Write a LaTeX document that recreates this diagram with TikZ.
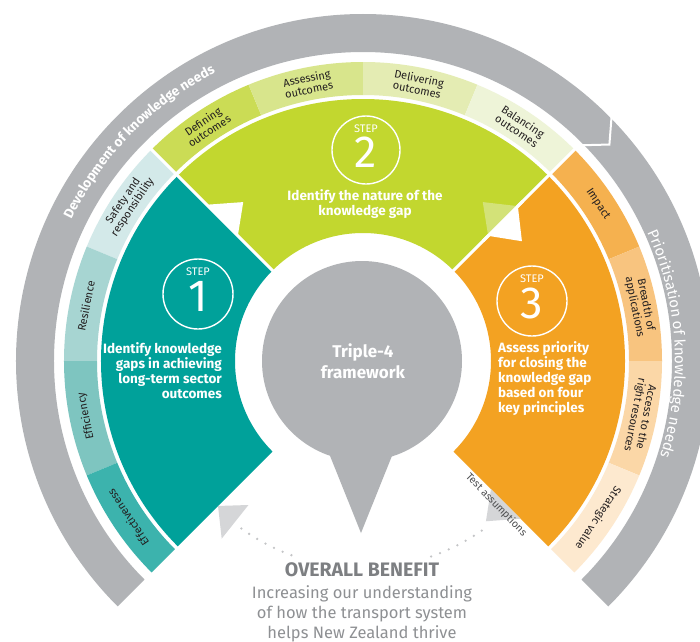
\documentclass[tikz,border=0pt]{standalone}
\usepackage{fontspec}
\setmainfont{Fira Sans}
\usetikzlibrary{decorations.text}
\definecolor{grayA}{HTML}{B1B3B6}
\definecolor{lgray}{HTML}{D5D6D8}
\definecolor{dotgray}{HTML}{C4C5C7}
\definecolor{tealM}{HTML}{00A19A}
\definecolor{greenM}{HTML}{C2D72F}
\definecolor{orangeM}{HTML}{F3A222}
\definecolor{greenTri}{HTML}{D3E278}
\definecolor{tA}{HTML}{D3E9E9}
\definecolor{tB}{HTML}{A7D5D2}
\definecolor{tC}{HTML}{7EC5C0}
\definecolor{tD}{HTML}{3CB3AD}
\definecolor{gA}{HTML}{CBDC55}
\definecolor{gB}{HTML}{D8E58C}
\definecolor{gC}{HTML}{E4ECB3}
\definecolor{gD}{HTML}{EEF4D8}
\definecolor{oA}{HTML}{F5B14F}
\definecolor{oB}{HTML}{F8C47F}
\definecolor{oC}{HTML}{FBD7A7}
\definecolor{oD}{HTML}{FDE9CF}
\definecolor{ink}{HTML}{231F20}
\definecolor{benefit}{HTML}{7D7F82}
\definecolor{subgray}{HTML}{8E9093}
\definecolor{testgray}{HTML}{4D4E50}
\newcommand{\ringseg}[5]{\fill[#1] (#2:#4pt) arc[start angle=#2,end angle=#3,radius=#4pt] -- (#3:#5pt) arc[start angle=#3,end angle=#2,radius=#5pt] -- cycle;}
\tikzset{
  bandlbl/.style={text=ink, align=center, inner sep=0pt, font=\fontsize{11}{11.5}\selectfont},
  steptxt/.style={text=white, inner sep=0pt, font=\bfseries\fontsize{13.5}{15}\selectfont},
  stepring/.style={draw=white, line width=1.4pt},
  steplbl/.style={text=white, inner sep=0pt, font=\fontsize{11}{11}\selectfont},
  stepnum/.style={text=white, inner sep=0pt, font=\fontsize{45}{45}\selectfont},
  dotline/.style={draw=dotgray, line width=2.6pt, line cap=round, dash pattern=on 0pt off 9.5pt},
  sepline/.style={draw=white, line width=3pt}
}
\begin{document}
\begin{tikzpicture}[x=1pt,y=1pt]
\useasboundingbox (-363,-280) rectangle (337,361);
\clip (-363,-280) rectangle (337,361);
\fill[white] (-363,-280) rectangle (337,361);
% outer gray band
\ringseg{grayA}{225}{-45}{347}{309}
\draw[white, line width=2pt, line join=miter] (45:352pt) -- (41.3:328pt) -- (45:305pt);
% thin bands
\ringseg{tA}{135}{157.5}{299}{266}
\ringseg{tB}{157.5}{180}{299}{266}
\ringseg{tC}{180}{202.5}{299}{266}
\ringseg{tD}{202.5}{225}{299}{266}
\ringseg{gA}{112.5}{135}{299}{266}
\ringseg{gB}{90}{112.5}{299}{266}
\ringseg{gC}{67.5}{90}{299}{266}
\ringseg{gD}{45}{67.5}{299}{266}
\ringseg{oA}{22.5}{45}{299}{266}
\ringseg{oB}{0}{22.5}{299}{266}
\ringseg{oC}{-22.5}{0}{299}{266}
\ringseg{oD}{-45}{-22.5}{299}{266}
% main sectors
\ringseg{tealM}{135}{225}{262}{128}
\ringseg{greenM}{45}{135}{262}{128}
\ringseg{orangeM}{-45}{45}{262}{128}
% separators
\draw[sepline] (135:120pt) -- (135:303pt);
\draw[sepline] (45:120pt) -- (45:303pt);
% arrow triangles
\fill[white] (135:221pt) -- (135:177pt) -- (127:199pt) -- cycle;
\fill[greenTri] (45:219pt) -- (45:177pt) -- (53:199pt) -- cycle;
\fill[white] (45:219pt) -- (45:177pt) -- (37:199pt) -- cycle;
\draw[sepline] (45:170pt) -- (45:226pt);
\fill[lgray] (225:205pt) -- (231.5:184pt) -- (231.5:227pt) -- cycle;
\fill[lgray] (-45:223pt) -- (-45:181pt) -- (-52.5:202pt) -- cycle;
% dotted return path
\coordinate (dA) at (-55:207pt);
\coordinate (dB) at (234:207pt);
\draw[dotline] (dA) arc[start angle=-55,end angle=-72,radius=207pt];
\draw[dotline] (dB) arc[start angle=234,end angle=250,radius=207pt];
% centre
\fill[grayA] (-1,0) circle[radius=100pt];
\fill[grayA] (-55,-40) -- (-2,-172) -- (51,-40) -- cycle;
\node[text=white, align=center, inner sep=0pt, font=\bfseries\fontsize{17}{21}\selectfont] (core) at (0,0) {Triple-4\\framework};
% steps
\draw[stepring] (-165,67) circle[radius=35pt];
\node[steplbl] (s1a) at (-165,89) {STEP};
\node[stepnum] (s1b) at (-165,65) {1};
\node[steptxt, align=right, anchor=east] (s1t) at (-141,-10) {Identify knowledge\\gaps in achieving\\long-term sector\\outcomes};
\draw[stepring] (3,211) circle[radius=34pt];
\node[steplbl] (s2a) at (3,232) {STEP};
\node[stepnum] (s2b) at (3,209) {2};
\node[steptxt, align=center] (s2t) at (2,157) {Identify the nature of the\\knowledge gap};
\draw[stepring] (169,60) circle[radius=35pt];
\node[steplbl] (s3a) at (169,82) {STEP};
\node[stepnum] (s3b) at (169,58) {3};
\node[steptxt, align=left, anchor=west] (s3t) at (135,-18) {Assess priority\\for closing the\\knowledge gap\\based on four\\key principles};
% band labels
\foreach \a/\t [count=\i] in {146.25/{Safety and\\responsibility}, 168.75/{Resilience}, 191.25/{Efficiency}, 213.75/{Effectiveness},
  123.75/{Defining\\outcomes}, 101.25/{Assessing\\outcomes}, 78.75/{Delivering\\outcomes}, 56.25/{Balancing\\outcomes},
  33.75/{Impact}, 11.25/{Breadth of\\applications}, -11.25/{Access to the\\right resources}, -33.75/{Strategic value}}
  \node[bandlbl, rotate=\a-90] (band\i) at (\a:282.5pt) {\t};
% arc texts
\path[decorate, decoration={text along path, text align=center, text color=white,
  text={|\bfseries\fontsize{13.5}{13.5}\selectfont|Development of knowledge needs}}]
  (185.6:324pt) arc[start angle=185.6,end angle=85.6,radius=324pt];
\path[decorate, decoration={text along path, text align=center, text color=white,
  text={|\fontsize{15}{15}\selectfont|Prioritisation of knowledge needs}}]
  (53.3:312pt) arc[start angle=53.3,end angle=-46.7,radius=312pt];
% test assumptions
\node[rotate=-46, text=testgray, inner sep=0pt, font=\fontsize{10.5}{10.5}\selectfont] (test) at (-47.2:196pt) {Test assumptions};
% benefit
\node[anchor=base, text=benefit, inner sep=0pt, font=\bfseries\fontsize{19.5}{19.5}\selectfont] (ben) at (-1,-215) {OVERALL BENEFIT};
\node[anchor=base, text=subgray, inner sep=0pt, font=\fontsize{16.5}{16.5}\selectfont] (sub1) at (-1,-237) {Increasing our understanding};
\node[anchor=base, text=subgray, inner sep=0pt, font=\fontsize{16.5}{16.5}\selectfont] (sub2) at (-1,-257) {of how the transport system};
\node[anchor=base, text=subgray, inner sep=0pt, font=\fontsize{16.5}{16.5}\selectfont] (sub3) at (-1,-277) {helps New Zealand thrive};
\end{tikzpicture}
\end{document}
